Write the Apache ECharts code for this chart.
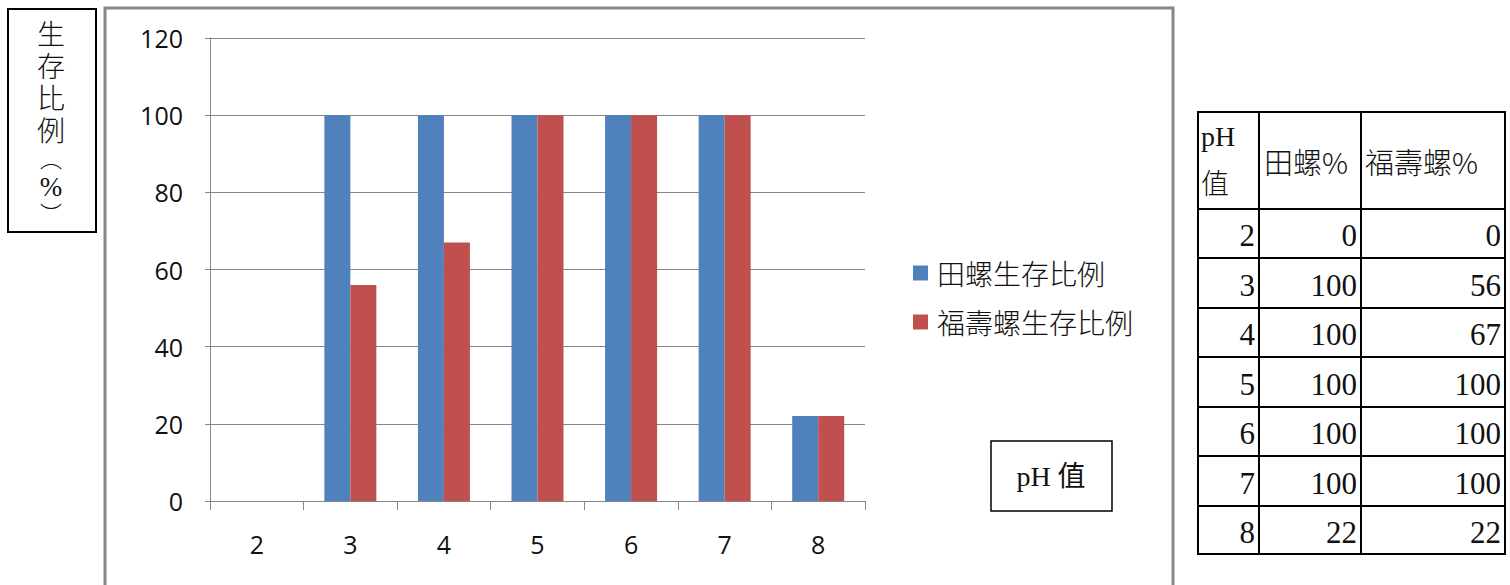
<!DOCTYPE html>
<html>
<head>
<meta charset="utf-8">
<script src="https://cdn.jsdelivr.net/npm/echarts@6/dist/echarts.min.js"></script>
<style>
html,body{margin:0;padding:0;background:#fff;}
#chart{width:1510px;height:585px;}
</style>
</head>
<body>
<div id="chart"></div>
<script>
// ---- data ----
const categories = ['2', '3', '4', '5', '6', '7', '8'];
const tianluo = [0, 100, 100, 100, 100, 100, 22];
const fushouluo = [0, 56, 67, 100, 100, 100, 22];
const seriesNames = ['田螺生存比例', '福壽螺生存比例'];
const yMin = 0, yMax = 120, yStep = 20;
const tableHeaders = ['pH', '田螺%', '福壽螺%'];
const yAxisTitleChars = ['生', '存', '比', '例'];
const xAxisTitle = 'pH 值';

// ---- layout ----
const chart = echarts.init(document.getElementById('chart'), null, {renderer: 'svg'});
const gridColor = '#868686';
const serif = '"Liberation Serif", "Noto Sans CJK TC", serif';
const cjk = '"Noto Sans CJK TC", "Liberation Serif", sans-serif';

const graphics = [];
// outer chart frame
graphics.push({type: 'rect', shape: {x: 105, y: 8, width: 1068, height: 620},
  style: {fill: 'none', stroke: '#878787', lineWidth: 3}, silent: true});
// y axis title box
graphics.push({type: 'rect', shape: {x: 8, y: 9, width: 88, height: 223},
  style: {fill: '#fff', stroke: '#000', lineWidth: 2}, silent: true});
const titleText = yAxisTitleChars.map(c => '{c|' + c + '}').join('\n') + '\n{p|︵}\n{s|%}\n{p|︶}';
graphics.push({type: 'text', x: 51, y: 19, silent: true,
  style: {
    text: titleText, align: 'center', verticalAlign: 'top', fill: '#111',
    rich: {
      c: {fontSize: 28, lineHeight: 32, fontFamily: serif, fontWeight: 300, fill: '#111', align: 'center'},
      p: {fontSize: 22, lineHeight: 25, fontFamily: serif, fontWeight: 300, fill: '#111', align: 'center'},
      s: {fontSize: 27, lineHeight: 30, fontFamily: serif, fill: '#111', align: 'center'}
    }
  }});
// x axis title box
graphics.push({type: 'rect', shape: {x: 991, y: 441, width: 121, height: 70},
  style: {fill: '#fff', stroke: '#000', lineWidth: 1.5}, silent: true});
graphics.push({type: 'text', x: 1051, y: 476, silent: true,
  style: {text: xAxisTitle, font: '28px ' + serif, fill: '#111', align: 'center', verticalAlign: 'middle'}});

// data table
const colX = [1198, 1259, 1361, 1505];
const rowY = [112, 209, 258, 308, 357, 407, 456, 506, 554];
colX.forEach(x => graphics.push({type: 'line', silent: true,
  shape: {x1: x, y1: rowY[0], x2: x, y2: rowY[rowY.length - 1]}, style: {stroke: '#000', lineWidth: 2}}));
rowY.forEach(y => graphics.push({type: 'line', silent: true,
  shape: {x1: colX[0] - 1, y1: y, x2: colX[colX.length - 1] + 1, y2: y}, style: {stroke: '#000', lineWidth: 2}}));
graphics.push({type: 'text', x: 1201, y: 113, silent: true,
  style: {text: '{a|' + tableHeaders[0] + '}\n{b|值}', align: 'left', verticalAlign: 'top',
    rich: {
      a: {fontSize: 28, lineHeight: 46, fontFamily: serif, fill: '#111'},
      b: {fontSize: 28, lineHeight: 46, fontFamily: cjk, fontWeight: 300, fill: '#111'}
    }}});
graphics.push({type: 'text', x: 1264, y: 161, silent: true,
  style: {text: tableHeaders[1], font: '300 29px ' + cjk, fill: '#111', align: 'left', verticalAlign: 'middle'}});
graphics.push({type: 'text', x: 1365, y: 161, silent: true,
  style: {text: tableHeaders[2], font: '300 29px ' + cjk, fill: '#111', align: 'left', verticalAlign: 'middle'}});
categories.forEach((c, i) => {
  const yc = (rowY[i + 1] + rowY[i + 2]) / 2 + 2;
  [c, tianluo[i], fushouluo[i]].forEach((v, j) => {
    graphics.push({type: 'text', x: colX[j + 1] - 4, y: yc, silent: true,
      style: {text: String(v), font: '31px ' + serif, fill: '#111', align: 'right', verticalAlign: 'middle'}});
  });
});

const option = {
  animation: false,
  backgroundColor: '#fff',
  grid: {left: 210, right: 645, top: 38, bottom: 84, containLabel: false},
  legend: {
    orient: 'vertical', left: 913, top: 259, padding: 0, icon: 'rect',
    itemWidth: 15, itemHeight: 15, itemGap: 21,
    data: seriesNames,
    textStyle: {fontSize: 28, lineHeight: 28, fontFamily: cjk, fontWeight: 300, color: '#111', padding: [0, 0, 0, 4]}
  },
  xAxis: {
    type: 'category', data: categories,
    axisLine: {show: true, lineStyle: {color: gridColor, width: 1}},
    axisTick: {show: true, length: 9, lineStyle: {color: gridColor}},
    axisLabel: {fontSize: 25, fontFamily: '"Open Sans", sans-serif', color: '#111', margin: 30}
  },
  yAxis: {
    type: 'value', min: yMin, max: yMax, interval: yStep,
    axisLine: {show: true, lineStyle: {color: gridColor, width: 1}},
    axisTick: {show: true, length: 5, lineStyle: {color: gridColor}},
    splitLine: {show: true, lineStyle: {color: gridColor, width: 1}},
    axisLabel: {fontSize: 25, fontFamily: '"Open Sans", sans-serif', color: '#111', margin: 27}
  },
  series: [
    {name: seriesNames[0], type: 'bar', data: tianluo, barWidth: 26, barGap: '0%',
      itemStyle: {color: '#4f81bd'}},
    {name: seriesNames[1], type: 'bar', data: fushouluo, barWidth: 26, barGap: '0%',
      itemStyle: {color: '#c0504d'}}
  ],
  graphic: graphics
};
chart.setOption(option);
</script>
</body>
</html>
